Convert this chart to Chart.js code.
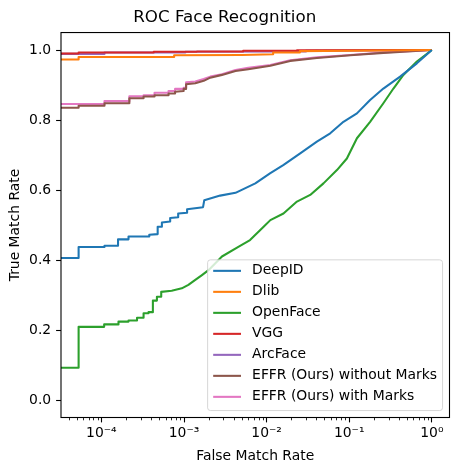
<!DOCTYPE html>
<html>
<head>
<meta charset="utf-8">
<title>ROC Face Recognition</title>
<script src="https://cdn.jsdelivr.net/npm/chart.js@4.4.1/dist/chart.umd.min.js"></script>
<style>
  html, body { margin: 0; padding: 0; background: #ffffff; }
  canvas { display: block; }
</style>
</head>
<body>
<canvas id="roc-chart" width="458" height="475"></canvas>
<script>
// ROC curves (false match rate is on a log axis).
// The first point of each curve stands in for FMR = 0, which a log axis cannot show.
const seriesNames = [
  "DeepID", "Dlib", "OpenFace", "VGG", "ArcFace",
  "EFFR (Ours) without Marks", "EFFR (Ours) with Marks",
];
const seriesColors = ["#1f77b4", "#ff7f0e", "#2ca02c", "#d62728", "#9467bd", "#8c564b", "#e377c2"];

const deepIdFmr = [1e-5, 5.3e-5, 5.3e-5, 1.09e-4, 1.09e-4, 1.59e-4, 1.59e-4, 2.13e-4, 2.13e-4, 3.8e-4, 3.8e-4,
  4.8e-4, 4.8e-4, 5.4e-4, 5.4e-4, 6.8e-4, 6.8e-4, 8.5e-4, 8.5e-4, 1.09e-3, 1.09e-3, 1.7e-3, 1.76e-3, 2.74e-3,
  4.2e-3, 7.3e-3, 0.0111, 0.0159, 0.0255, 0.0406, 0.0589, 0.0851, 0.124, 0.179, 0.259, 0.413, 0.659, 1];
const deepIdTmr = [0.406, 0.406, 0.437, 0.437, 0.441, 0.441, 0.459, 0.459, 0.467, 0.467, 0.472,
  0.474, 0.495, 0.495, 0.507, 0.510, 0.520, 0.522, 0.533, 0.535, 0.545, 0.551, 0.571, 0.584,
  0.592, 0.619, 0.648, 0.671, 0.705, 0.738, 0.762, 0.795, 0.819, 0.857, 0.890, 0.924, 0.962, 1];

const dlibFmr = [1e-5, 5.3e-5, 5.3e-5, 7.6e-4, 7.6e-4, 5e-3, 0.012, 0.012, 0.0253, 0.0253, 0.1, 1];
const dlibTmr = [0.973, 0.973, 0.980, 0.980, 0.985, 0.986, 0.988, 0.993, 0.993, 0.997, 0.998, 1];

const openFaceFmr = [1e-5, 5.3e-5, 5.3e-5, 1.08e-4, 1.08e-4, 1.61e-4, 1.61e-4, 2.13e-4, 2.13e-4, 2.7e-4, 2.7e-4,
  3.24e-4, 3.24e-4, 3.72e-4, 3.72e-4, 4.2e-4, 4.2e-4, 4.7e-4, 4.7e-4, 5.3e-4, 5.3e-4, 7.1e-4, 9.4e-4, 1.13e-3,
  1.37e-3, 1.65e-3, 1.98e-3, 2.88e-3, 4.6e-3, 6.3e-3, 9.2e-3, 0.0111, 0.016, 0.0233, 0.0337, 0.0488, 0.071,
  0.0937, 0.124, 0.179, 0.259, 0.343, 0.453, 0.659, 1];
const openFaceTmr = [0.092, 0.092, 0.209, 0.209, 0.216, 0.216, 0.224, 0.224, 0.227, 0.227, 0.235,
  0.235, 0.248, 0.248, 0.251, 0.251, 0.284, 0.284, 0.295, 0.295, 0.309, 0.312, 0.319, 0.329,
  0.343, 0.357, 0.371, 0.410, 0.438, 0.457, 0.495, 0.514, 0.533, 0.567, 0.586, 0.619, 0.657,
  0.690, 0.748, 0.795, 0.848, 0.890, 0.929, 0.967, 1];

const vggFmr = [1e-5, 5.3e-5, 5.3e-5, 4.3e-4, 4.3e-4, 1.43e-3, 1.43e-3, 5.2e-3, 5.2e-3, 0.0233, 0.0233, 1];
const vggTmr = [0.990, 0.990, 0.993, 0.993, 0.995, 0.995, 0.996, 0.996, 0.998, 0.998, 0.999, 1];

const arcFaceFmr = [1e-5, 1.09e-4, 1.09e-4, 1.04e-3, 1.04e-3, 0.03, 0.03, 1];
const arcFaceTmr = [0.989, 0.989, 0.993, 0.993, 0.995, 0.996, 0.998, 1];

const effrNoMarksFmr = [1e-5, 5.3e-5, 5.3e-5, 1.09e-4, 1.09e-4, 2.18e-4, 2.18e-4, 3.24e-4, 3.24e-4, 4.4e-4, 4.4e-4,
  6.5e-4, 6.5e-4, 7.8e-4, 7.8e-4, 9.9e-4, 9.9e-4, 1.06e-3, 1.06e-3, 1.37e-3, 1.73e-3, 2.08e-3, 2.88e-3, 4.2e-3,
  6.0e-3, 0.0111, 0.0193, 0.0406, 0.103, 0.259, 1];
const effrNoMarksTmr = [0.835, 0.835, 0.841, 0.841, 0.848, 0.848, 0.862, 0.862, 0.867, 0.867, 0.871,
  0.871, 0.876, 0.876, 0.881, 0.883, 0.889, 0.889, 0.902, 0.905, 0.912, 0.921, 0.929, 0.940,
  0.945, 0.955, 0.969, 0.977, 0.985, 0.992, 1];

const effrMarksFmr = [1e-5, 1.09e-4, 1.09e-4, 2.18e-4, 2.18e-4, 3.24e-4, 3.24e-4, 4.4e-4, 4.4e-4, 6.5e-4, 6.5e-4,
  7.8e-4, 7.8e-4, 9.9e-4, 9.9e-4, 1.06e-3, 1.06e-3, 1.37e-3, 1.73e-3, 2.08e-3, 2.88e-3, 4.2e-3, 6.0e-3,
  0.0111, 0.0193, 0.0406, 0.103, 0.259, 1];
const effrMarksTmr = [0.846, 0.846, 0.854, 0.854, 0.868, 0.868, 0.871, 0.871, 0.878, 0.878, 0.883,
  0.883, 0.889, 0.889, 0.892, 0.892, 0.908, 0.910, 0.917, 0.924, 0.931, 0.943, 0.949,
  0.957, 0.971, 0.979, 0.986, 0.993, 1];

const xTickValues = [1e-4, 1e-3, 1e-2, 1e-1, 1];
const xTickLabels = ["10\u207b\u2074", "10\u207b\u00b3", "10\u207b\u00b2", "10\u207b\u00b9", "10\u2070"];
const yTickValues = [0, 0.2, 0.4, 0.6, 0.8, 1.0];
const yTickLabels = ["0.0", "0.2", "0.4", "0.6", "0.8", "1.0"];

const fmrSeries = [deepIdFmr, dlibFmr, openFaceFmr, vggFmr, arcFaceFmr, effrNoMarksFmr, effrMarksFmr];
const tmrSeries = [deepIdTmr, dlibTmr, openFaceTmr, vggTmr, arcFaceTmr, effrNoMarksTmr, effrMarksTmr];

const FONT = "DejaVu Sans";
const FS = 13.9; // 10pt at 100 dpi

// minor log ticks and the black frame round the plot area
const axesFrame = {
  id: "axesFrame",
  afterDatasetsDraw(chart) {
    const { ctx, chartArea } = chart;
    const xs = chart.scales.x;
    ctx.save();
    ctx.strokeStyle = "#000";
    ctx.lineWidth = 0.83;
    for (let k = -6; k <= 0; k++) {
      for (let m = 2; m <= 9; m++) {
        const v = m * Math.pow(10, k);
        if (v < xs.min || v > xs.max) continue;
        const px = Math.round(xs.getPixelForValue(v)) + 0.5;
        ctx.beginPath();
        ctx.moveTo(px, chartArea.bottom);
        ctx.lineTo(px, chartArea.bottom + 2.8);
        ctx.stroke();
      }
    }
    ctx.lineWidth = 1.1;
    ctx.strokeRect(chartArea.left, chartArea.top, chartArea.right - chartArea.left, chartArea.bottom - chartArea.top);
    ctx.restore();
  },
};

// matplotlib-style legend in the lower right of the axes
const rocLegend = {
  id: "rocLegend",
  afterDraw(chart) {
    const { ctx, chartArea } = chart;
    const sets = chart.data.datasets;
    ctx.save();
    ctx.font = `${FS}px "${FONT}"`;
    const textW = Math.max(...sets.map((d) => ctx.measureText(d.label).width));
    const pad = 0.4 * FS, handle = 2 * FS, gap = 0.8 * FS, rowH = 21;
    const right = chartArea.right - 0.5 * FS;
    const bottom = chartArea.bottom - 0.5 * FS;
    const w = pad + handle + gap + textW + pad;
    const h = 11 + rowH * (sets.length - 1) + 13.7;
    const left = right - w, top = bottom - h;

    ctx.beginPath();
    ctx.roundRect(left, top, w, h, 2.8);
    ctx.fillStyle = "rgba(255,255,255,0.8)";
    ctx.fill();
    ctx.strokeStyle = "rgba(204,204,204,0.8)";
    ctx.lineWidth = 1;
    ctx.stroke();

    ctx.textBaseline = "middle";
    ctx.textAlign = "left";
    sets.forEach((d, i) => {
      const cy = top + 11 + i * rowH;
      ctx.beginPath();
      ctx.moveTo(left + pad, cy);
      ctx.lineTo(left + pad + handle, cy);
      ctx.strokeStyle = d.borderColor;
      ctx.lineWidth = 2.08;
      ctx.stroke();
      ctx.fillStyle = "#000";
      ctx.fillText(d.label, left + pad + handle + gap, cy);
    });
    ctx.restore();
  },
};

Chart.defaults.font.family = FONT;
Chart.defaults.color = "#000";

const ctx = document.getElementById("roc-chart").getContext("2d");

new Chart(ctx, {
  type: "line",
  data: {
    datasets: seriesNames.map((name, i) => ({
      label: name,
      data: fmrSeries[i].map((x, j) => ({ x: x, y: tmrSeries[i][j] })),
      borderColor: seriesColors[i],
      backgroundColor: seriesColors[i],
      borderWidth: 2.08,
      pointRadius: 0,
      tension: 0,
      fill: false,
      borderJoinStyle: "round",
    })),
  },
  options: {
    responsive: false,
    animation: false,
    devicePixelRatio: 1,
    parsing: true,
    layout: { padding: { left: 0, right: 8.5, top: 0, bottom: 0 } },
    plugins: {
      legend: { display: false },
      tooltip: { enabled: false },
      title: {
        display: true,
        text: "ROC Face Recognition",
        color: "#000",
        font: { size: 16.7, weight: "normal" },
        padding: { top: 7.7, bottom: 4.8 },
      },
    },
    scales: {
      x: {
        type: "logarithmic",
        min: Math.pow(10, -4.489),
        max: Math.pow(10, 0.214),
        afterBuildTicks: (scale) => {
          scale.ticks = xTickValues.map((v) => ({ value: v }));
        },
        afterFit: (scale) => {
          scale.height = 57.5;
        },
        grid: {
          drawOnChartArea: false,
          drawTicks: true,
          tickLength: 4.9,
          tickWidth: 1.1,
          tickColor: "#000",
        },
        border: { display: false },
        ticks: {
          color: "#000",
          font: { size: FS },
          padding: 3,
          maxRotation: 0,
          autoSkip: false,
          callback: (value, index) => xTickLabels[index],
        },
        title: {
          display: true,
          text: "False Match Rate",
          color: "#000",
          font: { size: FS },
          padding: { top: 0, bottom: 10.7 },
        },
      },
      y: {
        type: "linear",
        min: -0.05,
        max: 1.05,
        afterBuildTicks: (scale) => {
          scale.ticks = yTickValues.map((v) => ({ value: v }));
        },
        afterFit: (scale) => {
          scale.width = 61;
        },
        grid: {
          drawOnChartArea: false,
          drawTicks: true,
          tickLength: 4.9,
          tickWidth: 1.1,
          tickColor: "#000",
        },
        border: { display: false },
        ticks: {
          color: "#000",
          font: { size: FS },
          padding: 4.9,
          autoSkip: false,
          callback: (value, index) => yTickLabels[index],
        },
        title: {
          display: true,
          text: "True Match Rate",
          color: "#000",
          font: { size: FS },
          padding: { top: 6.7, bottom: 0 },
        },
      },
    },
  },
  plugins: [axesFrame, rocLegend],
});
</script>
</body>
</html>
